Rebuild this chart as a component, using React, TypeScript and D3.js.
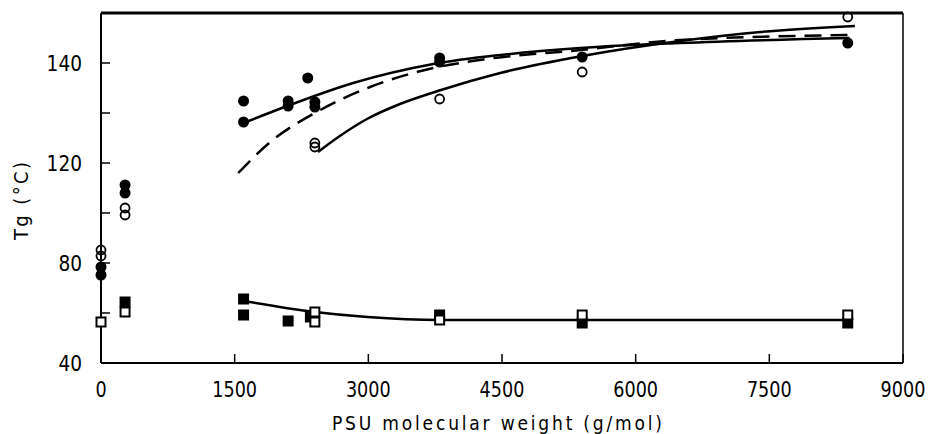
import React from 'react';
import * as d3 from 'd3';

// Tg of PSU-based samples vs PSU molecular weight.
// Circles = upper Tg, squares = lower Tg; filled / open are the two sample series.

const xTicks = [0, 1500, 3000, 4500, 6000, 7500, 9000];
const yTicks = [40, 60, 80, 100, 120, 140, 160];
const yTickLabels = ['40', '', '80', '', '120', '', '140'];

const filledCircles: [number, number][] = [
  [0, 78.4], [0, 75.2],
  [270, 111.2], [270, 108],
  [1600, 144.8], [1600, 136.4],
  [2100, 144.8], [2100, 142.8],
  [2320, 154],
  [2400, 144.4], [2400, 142.4],
  [3800, 162], [3800, 160.4],
  [5400, 162.4],
  [8380, 168],
];

const openCircles: [number, number][] = [
  [0, 85.2], [0, 82.8],
  [270, 102], [270, 99.2],
  [2400, 128], [2400, 126.4],
  [3800, 145.6],
  [5400, 156.4],
  [8380, 178.4],
];

const filledSquares: [number, number][] = [
  [270, 64.4],
  [1600, 65.6], [1600, 59.2],
  [2100, 56.8],
  [2350, 58.4],
  [3800, 59.2],
  [5400, 56],
  [8380, 56],
];

const openSquares: [number, number][] = [
  [0, 56.4],
  [270, 60.4],
  [2400, 60.4], [2400, 56.4],
  [3800, 57.2],
  [5400, 59.2],
  [8380, 59.2],
];

// fitted curves
const fitFilled: [number, number][] = [
  [1600, 136], [2090, 142.8], [2830, 152], [3730, 159.6], [4480, 163.2],
  [5380, 166], [6500, 168], [8400, 170],
];
const fitDashed: [number, number][] = [
  [1540, 116], [1900, 128.4], [2420, 140.4], [3020, 150.4], [3730, 158],
  [4250, 161.2], [5380, 165.2], [6500, 169.2], [8460, 171.2],
];
const fitOpen: [number, number][] = [
  [2435, 124.4], [2680, 130.8], [2985, 137.6], [3355, 143.6], [3815, 149.2],
  [4480, 156], [5400, 162.8], [6500, 168.8], [7400, 172.4], [8460, 174.8],
];
const fitSquares: [number, number][] = [
  [1600, 64.8], [2400, 60.4], [2990, 58.4], [3800, 57.2], [8400, 57.2],
];

const FONT = "'Liberation Sans Narrow', 'DejaVu Sans Condensed', 'DejaVu Sans', sans-serif";

export default function App() {
  const width = 928;
  const height = 434;
  const left = 101;
  const right = 903;
  const top = 13;
  const bottom = 363;

  const x = d3.scaleLinear().domain([0, 9000]).range([left, right]);
  const y = d3.scaleLinear().domain([40, 180]).range([bottom, top]);

  const line = d3
    .line<[number, number]>()
    .x((d) => x(d[0]))
    .y((d) => y(d[1]))
    .curve(d3.curveMonotoneX);

  const sq = 11;

  return (
    <svg
      width={width}
      height={height}
      style={{ position: 'absolute', left: 0, top: 0, background: '#fff' }}
      fontFamily={FONT}
    >
      <rect x={0} y={0} width={width} height={height} fill="#fff" />

      {/* frame */}
      <line x1={left} x2={right} y1={top} y2={top} stroke="#000" strokeWidth={3} />
      <line x1={right} x2={right} y1={top} y2={bottom} stroke="#000" strokeWidth={1.5} />
      <line x1={left} x2={right} y1={bottom} y2={bottom} stroke="#000" strokeWidth={2} />
      <line x1={left} x2={left} y1={top} y2={bottom} stroke="#000" strokeWidth={2} />

      {/* x ticks */}
      {xTicks.map((t) => {
        const label = String(t);
        return (
          <g key={`xt${t}`}>
            <line x1={x(t)} x2={x(t)} y1={bottom} y2={bottom - 9} stroke="#000" strokeWidth={1.5} />
            <text
              x={x(t)}
              y={397}
              textAnchor="middle"
              fontSize={22}
              textLength={label.length * 11.2}
              lengthAdjust="spacingAndGlyphs"
            >
              {label}
            </text>
          </g>
        );
      })}

      {/* y ticks */}
      {yTicks.map((t, i) => (
        <g key={`yt${t}`}>
          <line x1={left} x2={left + 9} y1={y(t)} y2={y(t)} stroke="#000" strokeWidth={1.5} />
          {yTickLabels[i] ? (
            <text
              x={82}
              y={y(t) + 8}
              textAnchor="end"
              fontSize={22}
              textLength={yTickLabels[i].length * 11.8}
              lengthAdjust="spacingAndGlyphs"
            >
              {yTickLabels[i]}
            </text>
          ) : null}
        </g>
      ))}

      {/* axis titles */}
      <text
        x={497}
        y={430}
        textAnchor="middle"
        fontSize={19}
        textLength={330}
        lengthAdjust="spacing"
      >
        PSU molecular weight (g/mol)
      </text>
      <text
        transform="translate(28,201) rotate(-90)"
        textAnchor="middle"
        fontSize={20}
        textLength={78}
        lengthAdjust="spacing"
      >
        Tg (°C)
      </text>

      {/* fitted curves */}
      <path d={line(fitFilled) ?? ''} fill="none" stroke="#000" strokeWidth={2.5} />
      <path
        d={line(fitDashed) ?? ''}
        fill="none"
        stroke="#000"
        strokeWidth={2.5}
        strokeDasharray="17 9"
      />
      <path d={line(fitOpen) ?? ''} fill="none" stroke="#000" strokeWidth={2.5} />
      <path d={line(fitSquares) ?? ''} fill="none" stroke="#000" strokeWidth={2.5} />

      {/* markers */}
      {filledSquares.map((d, i) => (
        <rect
          key={`fs${i}`}
          x={x(d[0]) - sq / 2}
          y={y(d[1]) - sq / 2}
          width={sq}
          height={sq}
          fill="#000"
        />
      ))}
      {openSquares.map((d, i) => (
        <rect
          key={`os${i}`}
          x={x(d[0]) - sq / 2 + 1}
          y={y(d[1]) - sq / 2 + 1}
          width={sq - 2}
          height={sq - 2}
          fill="#fff"
          stroke="#000"
          strokeWidth={2}
        />
      ))}
      {filledCircles.map((d, i) => (
        <circle key={`fc${i}`} cx={x(d[0])} cy={y(d[1])} r={5.5} fill="#000" />
      ))}
      {openCircles.map((d, i) => (
        <circle
          key={`oc${i}`}
          cx={x(d[0])}
          cy={y(d[1])}
          r={4.5}
          fill="none"
          stroke="#000"
          strokeWidth={1.8}
        />
      ))}
    </svg>
  );
}
